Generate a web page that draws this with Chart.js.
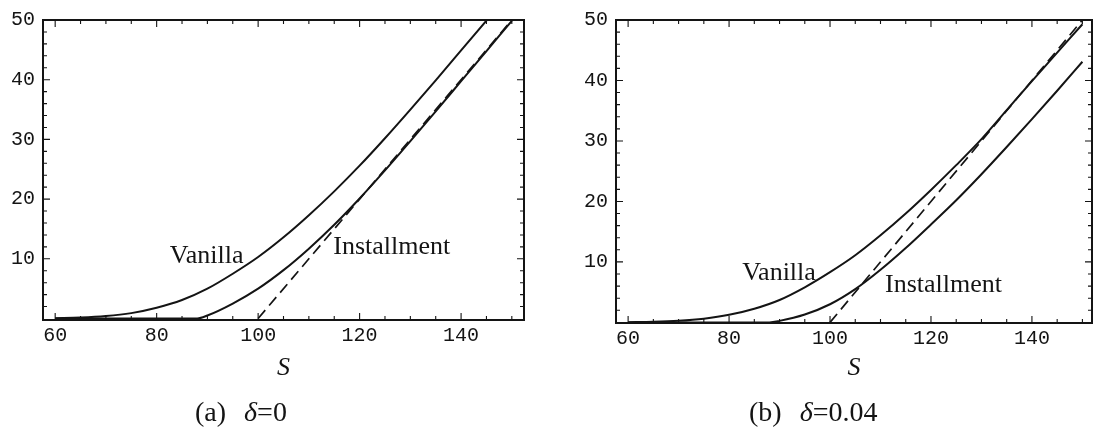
<!DOCTYPE html>
<html><head><meta charset="utf-8">
<script src="https://cdn.jsdelivr.net/npm/chart.js@4"></script>
<style>
html,body{margin:0;padding:0;background:#fff;}
#wrap{position:relative;width:1099px;height:434px;overflow:hidden;}
canvas{position:absolute;top:0;}
</style></head><body>
<div id="wrap">
<canvas id="ca" width="560" height="434" style="left:0;width:560px;height:434px"></canvas>
<canvas id="cb" width="539" height="434" style="left:560px;width:539px;height:434px"></canvas>
</div>
<script>
// ---- data ----
const sValues   = [60,65,70,75,80,85,90,95,100,105,110,115,120,125,130,135,140,145,150];
const installS  = [60,88,90,95,100,105,110,115,120,125,130,135,140,145,150];
// panel (a) delta = 0
const vanillaA  = [0.05,0.15,0.4,0.9,1.8,3.1,5.0,7.5,10.3,13.6,17.3,21.3,25.6,30.2,35.0,39.9,44.9,49.9,54.9];
const installA  = [0,0,0.5,2.5,5.0,8.1,11.7,15.7,20.1,24.8,29.7,34.7,39.75,44.8,49.85];
// panel (b) delta = 0.04
const vanillaB  = [0.03,0.1,0.27,0.62,1.25,2.26,3.71,5.8,8.3,11.1,14.4,18.0,21.9,26.0,30.3,35.1,39.9,44.6,49.3];
const installB  = [0,0,0.25,1.3,3.0,5.5,8.7,12.3,16.2,20.2,24.5,29.0,33.6,38.3,43.1];
// intrinsic value (dashed)
const payoffS   = [100,150];
const payoffV   = [0,50];
// tick labels
const xTickLabels = [60,80,100,120,140];
const yTickLabels = [10,20,30,40,50];
const seriesNames = ['Vanilla','Installment','Payoff'];

const INK = '#141414';
const monoFont = {family:'"Liberation Mono", "Courier New", monospace', size:20};

function pts(xs, ys){ return xs.map((x,i)=>({x:x, y:ys[i]})); }

const framePlugin = {
  id:'frame',
  afterDatasetsDraw(chart){
    const {ctx, chartArea:a, scales:{x,y}} = chart;
    ctx.save();
    ctx.strokeStyle = INK; ctx.lineWidth = 2;
    ctx.strokeRect(a.left, a.top, a.right-a.left, a.bottom-a.top);
    ctx.lineWidth = 1.1;
    ctx.beginPath();
    for (let v=55; v<=155; v+=5){
      const px = x.getPixelForValue(v);
      if (px < a.left+1 || px > a.right-1) continue;
      const L = (v % 20 === 0) ? 7 : 4;
      ctx.moveTo(px, a.bottom); ctx.lineTo(px, a.bottom-L);
      ctx.moveTo(px, a.top); ctx.lineTo(px, a.top+L);
    }
    for (let v=2; v<50; v+=2){
      const py = y.getPixelForValue(v);
      const L = (v % 10 === 0) ? 7 : 4;
      ctx.moveTo(a.left, py); ctx.lineTo(a.left+L, py);
      ctx.moveTo(a.right, py); ctx.lineTo(a.right-L, py);
    }
    ctx.stroke();
    ctx.restore();
  },
  afterDraw(chart){
    const o = chart.options.plugins.frame;
    const {ctx, scales:{x,y}} = chart;
    ctx.save();
    ctx.fillStyle = INK;
    ctx.textBaseline = 'alphabetic';
    ctx.font = '26px "Liberation Serif", serif';
    o.labels.forEach(l=>{
      ctx.fillText(l.text, x.getPixelForValue(l.s), y.getPixelForValue(l.v));
    });
    // caption
    let cx = o.captionX;
    const cy = o.captionY;
    o.caption.forEach(part=>{
      ctx.font = (part.italic ? 'italic ' : '') + '28px "Liberation Serif", serif';
      ctx.fillText(part.t, cx, cy);
      cx += ctx.measureText(part.t).width + (part.gap || 0);
    });
    ctx.restore();
  }
};

function makeChart(id, vanilla, install, cfg){
  return new Chart(document.getElementById(id), {
    type:'line',
    data:{
      datasets:[
        {label:seriesNames[0], data:pts(sValues, vanilla), borderColor:INK, borderWidth:2,
         pointRadius:0, fill:false, cubicInterpolationMode:'monotone'},
        {label:seriesNames[1], data:pts(installS, install), borderColor:INK, borderWidth:2,
         pointRadius:0, fill:false, cubicInterpolationMode:'monotone'},
        {label:seriesNames[2], data:pts(payoffS, payoffV), borderColor:INK, borderWidth:1.7,
         borderDash:[11,6], pointRadius:0, fill:false, tension:0}
      ]
    },
    options:{
      responsive:false, animation:false,
      layout:{padding:{top:cfg.top, right:cfg.right, left:0, bottom:0}},
      plugins:{
        legend:{display:false}, tooltip:{enabled:false},
        frame:{labels:cfg.labels, caption:cfg.caption, captionX:cfg.captionX, captionY:cfg.captionY}
      },
      scales:{
        x:{type:'linear', min:cfg.xmin, max:cfg.xmax,
           afterBuildTicks:s=>{ s.ticks = xTickLabels.map(v=>({value:v})); },
           afterFit:s=>{ s.height = cfg.xh; },
           grid:{display:false, drawTicks:false}, border:{display:false},
           ticks:{font:monoFont, color:INK, padding:4, maxRotation:0, autoSkip:false},
           title:{display:true, text:'S', color:INK,
                  font:{family:'"Liberation Serif", serif', size:26, style:'italic'},
                  padding:{top:0, bottom:50}}
        },
        y:{type:'linear', min:cfg.ymin, max:50,
           afterBuildTicks:s=>{ s.ticks = yTickLabels.map(v=>({value:v})); },
           afterFit:s=>{ s.width = cfg.yw; },
           grid:{display:false, drawTicks:false}, border:{display:false},
           ticks:{font:monoFont, color:INK, padding:8}
        }
      }
    },
    plugins:[framePlugin]
  });
}

makeChart('ca', vanillaA, installA, {
  top:16, right:36, yw:43, xh:114, xmin:57.6, xmax:152.4, ymin:-0.25,
  labels:[{text:'Vanilla', s:82.6, v:9.3},{text:'Installment', s:114.8, v:10.8}],
  caption:[{t:'(a)', gap:18},{t:'δ', italic:true},{t:'=0'}], captionX:195, captionY:421
});
makeChart('cb', vanillaB, installB, {
  top:20, right:7, yw:56, xh:111, xmin:57.6, xmax:151.9, ymin:-0.1,
  labels:[{text:'Vanilla', s:82.6, v:7.0},{text:'Installment', s:110.9, v:5.0}],
  caption:[{t:'(b)', gap:18},{t:'δ', italic:true},{t:'=0.04'}], captionX:749-560, captionY:421
});
</script>
</body></html>
